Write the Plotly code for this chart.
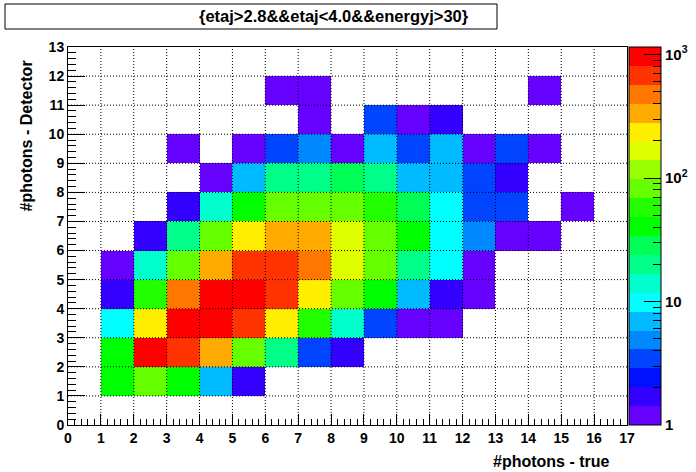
import math
import plotly.graph_objects as go

# ---------------- data ----------------
x_edges = list(range(0, 18))          # 0..17
y_edges = list(range(0, 14))          # 0..13
x_centers = [e + 0.5 for e in range(0, 17)]
y_centers = [e + 0.5 for e in range(0, 13)]

# counts per y-bin (row), x-bins 0..16 ; 0 = empty
row_y0 = [0, 0, 0, 0, 0, 0, 0, 0, 0, 0, 0, 0, 0, 0, 0, 0, 0]
row_y1 = [0, 40, 82, 40, 7, 2, 0, 0, 0, 0, 0, 0, 0, 0, 0, 0, 0]
row_y2 = [0, 40, 950, 680, 335, 82, 20, 3, 2, 0, 0, 0, 0, 0, 0, 0, 0]
row_y3 = [0, 10, 235, 950, 950, 680, 235, 58, 14, 3, 1, 1, 0, 0, 0, 0, 0]
row_y4 = [0, 2, 58, 475, 950, 950, 680, 235, 82, 40, 7, 2, 1, 0, 0, 0, 0]
row_y5 = [0, 1, 14, 82, 335, 680, 680, 475, 165, 82, 20, 10, 1, 0, 0, 0, 0]
row_y6 = [0, 0, 2, 20, 82, 235, 335, 335, 165, 82, 40, 10, 5, 1, 1, 0, 0]
row_y7 = [0, 0, 0, 2, 14, 40, 82, 82, 82, 58, 28, 10, 3, 3, 0, 1, 0]
row_y8 = [0, 0, 0, 0, 1, 7, 20, 20, 28, 20, 7, 7, 3, 2, 0, 0, 0]
row_y9 = [0, 0, 0, 1, 0, 1, 3, 5, 1, 7, 3, 7, 1, 3, 1, 0, 0]
row_y10 = [0, 0, 0, 0, 0, 0, 0, 1, 0, 3, 1, 2, 0, 0, 0, 0, 0]
row_y11 = [0, 0, 0, 0, 0, 0, 1, 1, 0, 0, 0, 0, 0, 0, 1, 0, 0]
row_y12 = [0, 0, 0, 0, 0, 0, 0, 0, 0, 0, 0, 0, 0, 0, 0, 0, 0]
counts = [row_y0, row_y1, row_y2, row_y3, row_y4, row_y5, row_y6,
          row_y7, row_y8, row_y9, row_y10, row_y11, row_y12]

z_max_count = 1150
x_tick_labels = [str(v) for v in range(0, 18)]
y_tick_labels = [str(v) for v in range(0, 14)]
cbar_major = [1, 10, 100, 1000]
cbar_major_text = ["1", "10", "10<sup>2</sup>", "10<sup>3</sup>"]

title_text = "{etaj>2.8&&etaj<4.0&&energyj>30}"
x_title = "#photons - true"
y_title = "#photons - Detector"

# ROOT palette (20 contour colours, low -> high)
palette = ["#6600ff", "#3300ff", "#0011ff", "#0044ff", "#0088ff", "#00bbff",
           "#00ffff", "#00ffcc", "#00ff88", "#00ff55", "#00ff00", "#22ff00",
           "#66ff00", "#99ff00", "#ddff00", "#ffee00", "#ffaa00", "#ff7700",
           "#ff3300", "#ff0000"]

# ---------------- figure ----------------
n = len(palette)
colorscale = []
for i, c in enumerate(palette):
    colorscale.append([i / n, c])
    colorscale.append([(i + 1) / n, c])

zlog = [[(math.log10(v) if v > 0 else None) for v in row] for row in counts]
zmax = math.log10(z_max_count)

FONT = "Liberation Sans"

W, H = 696, 472
ML, MR, MT, MB = 68, 69, 47, 47
PW = W - ML - MR
PH = H - MT - MB

def px_x(p):  # window pixel -> paper x
    return (p - ML) / PW

def px_y(p):  # window pixel -> paper y
    return (H - MB - p) / PH

fig = go.Figure()

fig.add_trace(go.Heatmap(
    x=x_centers, y=y_centers, z=zlog,
    zmin=0, zmax=zmax, colorscale=colorscale, zsmooth=False,
    hoverongaps=False,
    colorbar=dict(
        x=px_x(629), xanchor="left", xpad=0, ypad=0,
        y=0, yanchor="bottom", len=1, lenmode="fraction",
        thickness=32, thicknessmode="pixels",
        outlinecolor="black", outlinewidth=1,
        tickmode="array",
        tickvals=[math.log10(v) for v in cbar_major],
        ticktext=cbar_major_text,
        ticks="inside", ticklen=17, tickcolor="black", tickwidth=1,
        tickfont=dict(family=FONT, size=15, color="black", weight="bold"),
    ),
))

# minor ticks of the colour bar (transparent second bar)
minor_vals = []
for dec in [1, 10, 100]:
    for k in range(2, 10):
        minor_vals.append(math.log10(k * dec))
fig.add_trace(go.Scatter(
    x=[None], y=[None], mode="markers", showlegend=False, hoverinfo="skip",
    marker=dict(color=[0], cmin=0, cmax=zmax,
                colorscale=[[0, "rgba(0,0,0,0)"], [1, "rgba(0,0,0,0)"]],
                showscale=True,
                colorbar=dict(
                    x=px_x(629), xanchor="left", xpad=0, ypad=0,
                    y=0, yanchor="bottom", len=1, lenmode="fraction",
                    thickness=32, thicknessmode="pixels",
                    outlinewidth=0, bgcolor="rgba(0,0,0,0)",
                    tickmode="array", tickvals=minor_vals,
                    showticklabels=False,
                    ticks="inside", ticklen=8, tickcolor="black", tickwidth=1,
                )),
))

# dotted grid drawn above the cells
gx, gy = [], []
for v in x_edges[1:-1]:
    gx += [v, v, None]
    gy += [y_edges[0], y_edges[-1], None]
for v in y_edges[1:-1]:
    gx += [x_edges[0], x_edges[-1], None]
    gy += [v, v, None]
fig.add_trace(go.Scatter(
    x=gx, y=gy, mode="lines", showlegend=False, hoverinfo="skip",
    line=dict(color="black", width=1, dash="1px,2px"),
))

axis_font = dict(family=FONT, size=14, color="black", weight="bold")
fig.update_xaxes(
    range=[x_edges[0], x_edges[-1]], tickmode="array",
    tickvals=x_edges, ticktext=x_tick_labels,
    ticks="inside", ticklen=11, tickcolor="black",
    minor=dict(dtick=0.2, tick0=0, ticks="inside", ticklen=6, tickcolor="black", showgrid=False),
    showgrid=False, zeroline=False, showline=True, linecolor="black",
    linewidth=1, mirror=True, tickfont=axis_font, layer="above traces",
)
fig.update_yaxes(
    range=[y_edges[0], y_edges[-1]], tickmode="array",
    tickvals=y_edges, ticktext=y_tick_labels,
    ticks="inside", ticklen=17, tickcolor="black",
    minor=dict(dtick=0.2, tick0=0, ticks="inside", ticklen=8, tickcolor="black", showgrid=False),
    showgrid=False, zeroline=False, showline=True, linecolor="black",
    linewidth=1, mirror=True, tickfont=axis_font, layer="above traces",
)

# title box
fig.add_shape(type="rect", xref="paper", yref="paper",
              x0=px_x(5), x1=px_x(497), y0=px_y(29), y1=px_y(4),
              line=dict(color="black", width=1), fillcolor="white")

fig.update_layout(
    width=W, height=H,
    margin=dict(l=ML, r=MR, t=MT, b=MB, autoexpand=False),
    paper_bgcolor="white", plot_bgcolor="white",
    showlegend=False,
    annotations=[
        dict(text=title_text, xref="paper", yref="paper", x=px_x(334), y=px_y(16),
             xanchor="center", yanchor="middle", showarrow=False,
             font=dict(family=FONT, size=16.5, color="black", weight="bold")),
        dict(text=x_title, xref="paper", yref="paper", x=px_x(612), y=px_y(461),
             xanchor="right", yanchor="middle", showarrow=False,
             font=dict(family=FONT, size=16, color="black", weight="bold")),
        dict(text=y_title, xref="paper", yref="paper", x=px_x(26), y=px_y(58),
             xanchor="center", yanchor="top", textangle=-90, showarrow=False,
             font=dict(family=FONT, size=16, color="black", weight="bold")),
    ],
)

fig.write_html("out.html", config={"displayModeBar": False},
               post_script="document.body.style.margin='0';document.body.style.overflow='hidden';")
